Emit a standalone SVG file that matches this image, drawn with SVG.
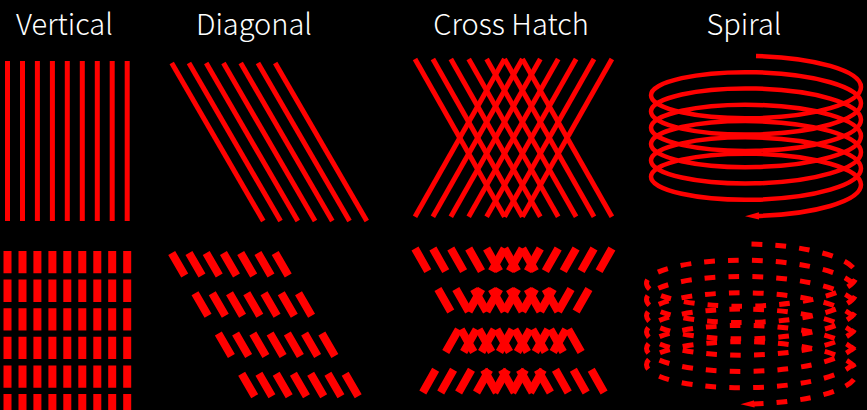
<svg xmlns="http://www.w3.org/2000/svg" xmlns:xlink="http://www.w3.org/1999/xlink" width="867" height="410" viewBox="0 0 867 410">
<style>
.bg{fill:#000}
.title{font-family:"Noto Sans CJK JP","Source Sans Pro","Liberation Sans",sans-serif;font-size:29px;font-weight:300;fill:#fff;text-anchor:middle}
.solid{fill:none;stroke:#ff0000;stroke-width:5}
.dv{fill:none;stroke:#ff0000;stroke-width:8;stroke-dasharray:22.3 6.3}
.dd{fill:none;stroke:#ff0000;stroke-width:8;stroke-dasharray:26 20.5}
.sp{fill:none;stroke:#ff0000;stroke-width:4.5}
.spd{fill:none;stroke:#ff0000;stroke-width:5;stroke-dasharray:0.45 0.55}
</style>
<defs>
<marker id="arr" markerUnits="userSpaceOnUse" markerWidth="16" markerHeight="10" refX="3" refY="5" orient="auto">
<path d="M0,1.3 L14,5 L0,8.7 z" fill="#ff0000"/>
</marker>
<g id="vlines">
<line x1="7.5" y1="0" x2="7.5" y2="160"/>
<line x1="22.5" y1="0" x2="22.5" y2="160"/>
<line x1="37.4" y1="0" x2="37.4" y2="160"/>
<line x1="52.4" y1="0" x2="52.4" y2="160"/>
<line x1="67.3" y1="0" x2="67.3" y2="160"/>
<line x1="82.3" y1="0" x2="82.3" y2="160"/>
<line x1="97.3" y1="0" x2="97.3" y2="160"/>
<line x1="112.2" y1="0" x2="112.2" y2="160"/>
<line x1="127.2" y1="0" x2="127.2" y2="160"/>
</g>
<g id="dlines">
<line x1="171.7" y1="0" x2="263.3" y2="158"/>
<line x1="188.95" y1="0" x2="280.55" y2="158"/>
<line x1="206.2" y1="0" x2="297.8" y2="158"/>
<line x1="223.45" y1="0" x2="315.05" y2="158"/>
<line x1="240.7" y1="0" x2="332.3" y2="158"/>
<line x1="257.95" y1="0" x2="349.55" y2="158"/>
<line x1="275.2" y1="0" x2="366.8" y2="158"/>
</g>
<g id="xlines">
<line x1="415" y1="0" x2="504.5" y2="157.7"/>
<line x1="432.9" y1="0" x2="522.4" y2="157.7"/>
<line x1="450.8" y1="0" x2="540.3" y2="157.7"/>
<line x1="468.7" y1="0" x2="558.2" y2="157.7"/>
<line x1="486.6" y1="0" x2="576.1" y2="157.7"/>
<line x1="504.5" y1="0" x2="594" y2="157.7"/>
<line x1="522.4" y1="0" x2="611.9" y2="157.7"/>
<line x1="504.5" y1="0" x2="415" y2="157.7"/>
<line x1="522.4" y1="0" x2="432.9" y2="157.7"/>
<line x1="540.3" y1="0" x2="450.8" y2="157.7"/>
<line x1="558.2" y1="0" x2="468.7" y2="157.7"/>
<line x1="576.1" y1="0" x2="486.6" y2="157.7"/>
<line x1="594" y1="0" x2="504.5" y2="157.7"/>
<line x1="611.9" y1="0" x2="522.4" y2="157.7"/>
</g>
<path id="spiral" pathLength="123.5" d="M756,56
c58,1.36 105,14.81 105,31.075 c0,16.265 -47,29.715 -105,31.075 c-58,1.36 -105,-9.37 -105,-22.925 c0,-13.555 47,-24.285 105,-22.925
c58,1.36 105,14.81 105,31.075 c0,16.265 -47,29.715 -105,31.075 c-58,1.36 -105,-9.37 -105,-22.925 c0,-13.555 47,-24.285 105,-22.925
c58,1.36 105,14.81 105,31.075 c0,16.265 -47,29.715 -105,31.075 c-58,1.36 -105,-9.37 -105,-22.925 c0,-13.555 47,-24.285 105,-22.925
c58,1.36 105,14.81 105,31.075 c0,16.265 -47,29.715 -105,31.075 c-58,1.36 -105,-9.37 -105,-22.925 c0,-13.555 47,-24.285 105,-22.925
c58,1.36 105,14.81 105,31.075 c0,16.265 -47,29.715 -105,31.075 c-58,1.36 -105,-9.37 -105,-22.925 c0,-13.555 47,-24.285 105,-22.925
c58,1.36 105,14.81 105,31.075 c0,16.265 -47,29.715 -105,31.075 c-58,1.36 -105,-9.37 -105,-22.925 c0,-13.555 47,-24.285 105,-22.925
c58,1.36 105,14.81 105,31.075 c0,16.265 -47,29.715 -105,31.075"/>
</defs>
<rect class="bg" x="0" y="0" width="867" height="410"/>
<g id="titles">
<text class="title" x="64.5" y="35">Vertical</text>
<text class="title" x="254" y="35">Diagonal</text>
<text class="title" x="511" y="35">Cross Hatch</text>
<text class="title" x="744" y="35">Spiral</text>
</g>
<g id="vertical">
<use xlink:href="#vlines" href="#vlines" class="solid" transform="translate(0,61)"/>
<use xlink:href="#vlines" href="#vlines" class="dv" transform="translate(0,251)"/>
</g>
<g id="diagonal">
<use xlink:href="#dlines" href="#dlines" class="solid" transform="translate(0,63)"/>
<use xlink:href="#dlines" href="#dlines" class="dd" transform="translate(0,253)"/>
</g>
<g id="crosshatch">
<use xlink:href="#xlines" href="#xlines" class="solid" transform="translate(0,59)"/>
<use xlink:href="#xlines" href="#xlines" class="dd" transform="translate(0,248.5)"/>
</g>
<g id="spirals">
<use xlink:href="#spiral" href="#spiral" class="sp" marker-end="url(#arr)"/>
<use xlink:href="#spiral" href="#spiral" class="spd" marker-end="url(#arr)" transform="translate(-4.5,188)"/>
</g>
</svg>
